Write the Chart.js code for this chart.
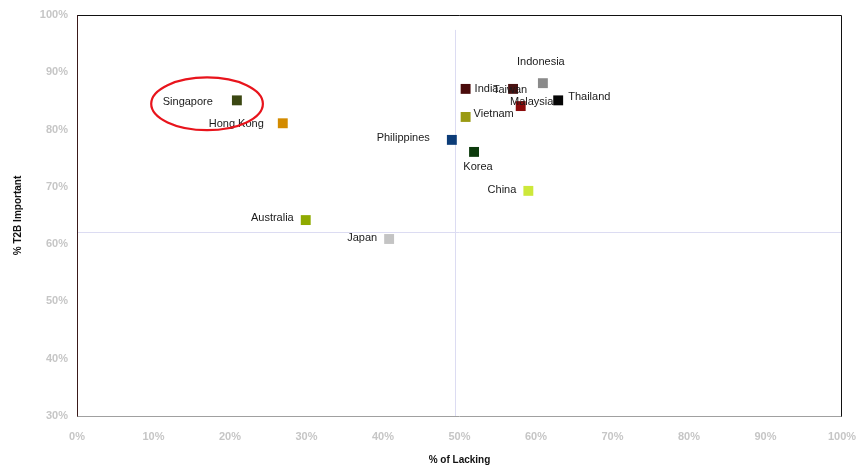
<!DOCTYPE html>
<html><head><meta charset="utf-8">
<script src="https://cdn.jsdelivr.net/npm/chart.js@4/dist/chart.umd.min.js"></script>
<style>html,body{margin:0;padding:0;background:#fff}#wrap{width:860px;height:467px}</style>
</head><body><div id="wrap"><canvas id="c" width="860" height="467"></canvas></div>
<script>
const countries = ["Singapore","Hong Kong","India","Taiwan","Indonesia","Thailand","Malaysia","Vietnam","Philippines","Korea","China","Australia","Japan"];
const lacking   = [20.9, 26.9, 50.8, 57.0, 60.9, 62.9, 58.0, 50.8, 49.0, 51.9, 59.0, 29.9, 40.8];
const important = [85.1, 81.1, 87.1, 87.1, 88.1, 85.1, 84.1, 82.2, 78.2, 76.1, 69.3, 64.2, 60.9];
const colors    = ["#3b4712","#d38b00","#4a0b0b","#4a1212","#8a8a8a","#050505","#8c0c0c","#9a9a12","#0c3c78","#0c3a0c","#cde83a","#8faa00","#c4c4c4"];
const xTicks = [0,10,20,30,40,50,60,70,80,90,100];
const yTicks = [30,40,50,60,70,80,90,100];
const refX = 49.4, refY = 62.1;
// label placement: [align, dx, dy]
const labelPos = [["right",-24,2],["right",-19,1],["left",9,0],["center",-3,1],["center",-2,-21],["left",10,-3],["center",11,-4],["left",8,-3],["right",-22,-2],["center",4,15],["right",-12,-1],["right",-12,-2],["right",-12,-1]];
const highlight = {x:17.0, y:84.5, rx:7.3, ry:4.6};

const FONT = "'Liberation Sans', Arial, sans-serif";

const deco = {
  id:'deco',
  beforeDatasetsDraw(chart){
    const {ctx, chartArea:a, scales:{x,y}} = chart;
    ctx.save();
    ctx.lineWidth = 1;
    ctx.strokeStyle = '#dcdcf2';
    const px = Math.round(x.getPixelForValue(refX))+0.5;
    ctx.beginPath(); ctx.moveTo(px, y.getPixelForValue(97.4)); ctx.lineTo(px, a.bottom); ctx.stroke();
    const py = Math.round(y.getPixelForValue(refY))+0.5;
    ctx.beginPath(); ctx.moveTo(a.left, py); ctx.lineTo(a.right, py); ctx.stroke();
    // frame
    ctx.strokeStyle = '#a0a0a0';
    ctx.beginPath(); ctx.moveTo(a.left, a.bottom+0.5); ctx.lineTo(a.right, a.bottom+0.5); ctx.stroke();
    ctx.strokeStyle = '#111';
    ctx.beginPath(); ctx.moveTo(a.left, a.top+0.5); ctx.lineTo(a.right-0.5, a.top+0.5); ctx.lineTo(a.right-0.5, a.bottom+0.5); ctx.stroke();
    ctx.strokeStyle = '#3a1a1a';
    ctx.beginPath(); ctx.moveTo(a.left+0.5, a.top); ctx.lineTo(a.left+0.5, a.bottom+0.5); ctx.stroke();
    ctx.restore();
  },
  afterDatasetsDraw(chart){
    const {ctx, scales:{x,y}} = chart;
    const meta = chart.getDatasetMeta(0);
    ctx.save();
    ctx.font = "11px " + FONT;
    ctx.fillStyle = '#1a1a1a';
    ctx.textBaseline = 'middle';
    meta.data.forEach((pt,i)=>{
      const [al,dx,dy] = labelPos[i];
      ctx.textAlign = al;
      ctx.fillText(countries[i], pt.x+dx, pt.y+dy);
    });
    // highlight ellipse
    const cx = x.getPixelForValue(highlight.x), cy = y.getPixelForValue(highlight.y);
    const rx = x.getPixelForValue(highlight.x+highlight.rx)-cx;
    const ry = cy - y.getPixelForValue(highlight.y+highlight.ry);
    ctx.strokeStyle = '#e8141c';
    ctx.lineWidth = 2.2;
    ctx.beginPath(); ctx.ellipse(cx, cy, rx, ry, 0, 0, Math.PI*2); ctx.stroke();
    ctx.restore();
  }
};

new Chart(document.getElementById('c'), {
  type:'scatter',
  data:{datasets:[{
    data: lacking.map((v,i)=>({x:v, y:important[i]})),
    pointStyle:'rect', pointRadius:7, pointHoverRadius:7,
    backgroundColor: colors, borderColor: colors, borderWidth:0
  }]},
  options:{
    responsive:false, animation:false,
    layout:{padding:{top:15, right:18, left:12, bottom:0}},
    plugins:{legend:{display:false}, tooltip:{enabled:false}},
    scales:{
      x:{type:'linear', min:0, max:100,
        afterBuildTicks(s){ s.ticks = xTicks.map(v=>({value:v})); },
        afterFit(s){ s.height = 51; s.paddingLeft = 0; s.paddingRight = 0; },
        grid:{display:false, drawTicks:false}, border:{display:false},
        ticks:{color:'#c6c6c6', font:{family:FONT, size:11, weight:'bold'}, padding:14, maxRotation:0, callback:v=>v+'%'},
        title:{display:true, text:'% of Lacking', color:'#111', font:{family:FONT, size:10, weight:'bold'}, padding:{top:4,bottom:1}}
      },
      y:{type:'linear', min:30, max:100,
        afterBuildTicks(s){ s.ticks = yTicks.map(v=>({value:v})); },
        afterFit(s){ s.width = 65; s.paddingTop = 0; s.paddingBottom = 0; },
        grid:{display:false, drawTicks:false}, border:{display:false},
        ticks:{color:'#c6c6c6', font:{family:FONT, size:11, weight:'bold'}, padding:9, callback:v=>v+'%'},
        title:{display:true, text:'% T2B Important', color:'#111', font:{family:FONT, size:10, weight:'bold'}, padding:{top:0,bottom:0}}
      }
    }
  },
  plugins:[deco]
});
</script></body></html>
